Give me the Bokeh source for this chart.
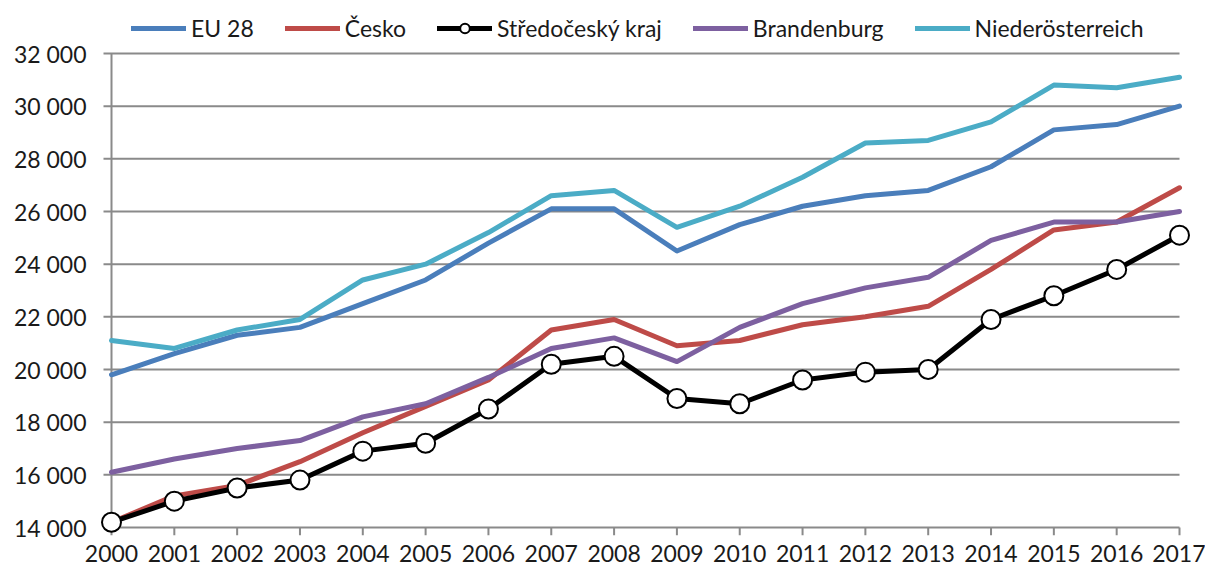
from bokeh.plotting import figure
from bokeh.models import Range1d, FixedTicker, Legend, LegendItem
from bokeh.embed import file_html
from bokeh.resources import INLINE

years = list(range(2000, 2018))
eu28 = [19800, 20600, 21300, 21600, 22500, 23400, 24800, 26100, 26100, 24500,
        25500, 26200, 26600, 26800, 27700, 29100, 29300, 30000]
cesko = [14200, 15200, 15600, 16500, 17600, 18600, 19600, 21500, 21900, 20900,
         21100, 21700, 22000, 22400, 23800, 25300, 25600, 26900]
stredocesky = [14200, 15000, 15500, 15800, 16900, 17200, 18500, 20200, 20500, 18900,
               18700, 19600, 19900, 20000, 21900, 22800, 23800, 25100]
brandenburg = [16100, 16600, 17000, 17300, 18200, 18700, 19700, 20800, 21200, 20300,
               21600, 22500, 23100, 23500, 24900, 25600, 25600, 26000]
niederosterreich = [21100, 20800, 21500, 21900, 23400, 24000, 25200, 26600, 26800, 25400,
                    26200, 27300, 28600, 28700, 29400, 30800, 30700, 31100]

y_ticks = [14000, 16000, 18000, 20000, 22000, 24000, 26000, 28000, 30000, 32000]
y_tick_labels = ["14 000", "16 000", "18 000", "20 000", "22 000",
                 "24 000", "26 000", "28 000", "30 000", "32 000"]
x_tick_labels = [str(y) for y in years]

series_names = ["EU 28", "Česko", "Středočeský kraj", "Brandenburg", "Niederösterreich"]
colors = ["#4A7EBB", "#BE4B48", "#000000", "#7D60A0", "#4BACC6"]

FONT = "Lato"
GRID = "#8A8A8A"
TXT = "#1a1a1a"

W, H = 1205, 572
x0_px, x1_px = 111, 1179      # where first/last year sit
yt_px, yb_px = 53, 527        # where top/bottom tick sit
padL, padR, padT, padB = 12, 14, 53, 8
TICK = 8
xmin, xmax = years[0], years[-1]
ymin, ymax = y_ticks[0], y_ticks[-1]
sx = (x1_px - x0_px) / (xmax - xmin)
sy = (yb_px - yt_px) / (ymax - ymin)

frame_left = x0_px - padL
frame_top = yt_px - padT
frame_bottom = yb_px + padB

p = figure(width=W, height=H, output_backend="svg", toolbar_location=None,
           x_range=Range1d(xmin - padL / sx, xmax + padR / sx),
           y_range=Range1d(ymin - padB / sy, ymax + padT / sy),
           min_border_left=frame_left, min_border_right=W - (x1_px + padR),
           min_border_top=frame_top, min_border_bottom=H - frame_bottom)
p.outline_line_color = None
p.background_fill_color = "white"
p.grid.visible = False

# gridlines (with the outward y tick marks) from the tick list
n = len(y_ticks)
p.segment(x0=[xmin - TICK / sx] * n, y0=y_ticks, x1=[xmax] * n, y1=y_ticks,
          line_color=GRID, line_width=2, level="underlay")
# y axis line
p.segment(x0=[xmin], y0=[ymin], x1=[xmin], y1=[ymax],
          line_color=GRID, line_width=2, level="underlay")
# x tick marks
m = len(years)
p.segment(x0=years, y0=[ymin] * m, x1=years, y1=[ymin - TICK / sy] * m,
          line_color=GRID, line_width=2, level="underlay")

# axes (labels only)
xa = p.xaxis[0]
xa.ticker = FixedTicker(ticks=years)
xa.major_label_overrides = {y: l for y, l in zip(years, x_tick_labels)}
xa.minor_tick_line_color = None
xa.major_tick_line_color = None
xa.major_tick_in = 0
xa.major_tick_out = 0
xa.axis_line_color = None
xa.major_label_standoff = 9
xa.major_label_text_font = FONT
xa.major_label_text_font_size = "23px"
xa.major_label_text_color = TXT

ya = p.yaxis[0]
ya.ticker = FixedTicker(ticks=y_ticks)
ya.major_label_overrides = {t: l for t, l in zip(y_ticks, y_tick_labels)}
ya.minor_tick_line_color = None
ya.major_tick_line_color = None
ya.major_tick_in = 0
ya.major_tick_out = 0
ya.axis_line_color = None
ya.major_label_standoff = 13
ya.major_label_text_font = FONT
ya.major_label_text_font_size = "23px"
ya.major_label_text_color = TXT

data = [eu28, cesko, stredocesky, brandenburg, niederosterreich]
renderers = {}
for i in [0, 1, 3, 4]:
    renderers[i] = [p.line(years, data[i], line_color=colors[i], line_width=5,
                           line_join="round", line_cap="round")]
r_line = p.line(years, stredocesky, line_color="black", line_width=5,
                line_join="round", line_cap="round")
r_pts = p.scatter(years, stredocesky, size=19, marker="circle",
                  fill_color="white", line_color="black", line_width=2)
renderers[2] = [r_line, r_pts]

items = [LegendItem(label=series_names[i], renderers=renderers[i]) for i in range(5)]
LEG_H = 28
legend = Legend(items=items, orientation="horizontal",
                location=(131 - frame_left, (frame_bottom - frame_top) - 14 - LEG_H),
                glyph_width=55, glyph_height=24, label_standoff=5, spacing=31,
                padding=0, margin=0, border_line_color=None,
                background_fill_alpha=0,
                label_text_font=FONT, label_text_font_size="23px",
                label_text_color=TXT)
p.add_layout(legend)

open("out.html", "w").write(file_html(p, INLINE))
